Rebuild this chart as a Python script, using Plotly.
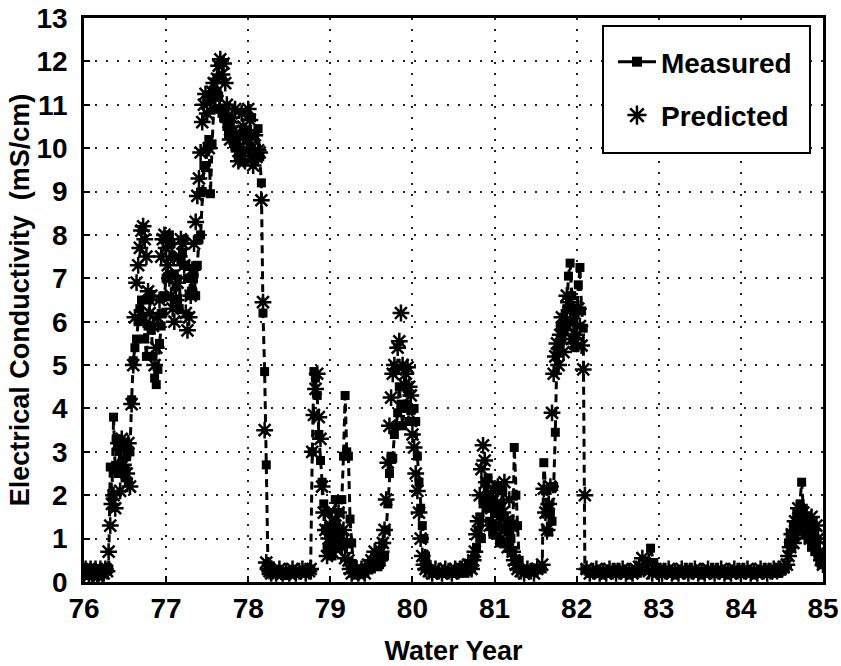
import plotly.graph_objects as go

# ---------------- data ----------------
# Water-year axis
year_ticks = [76, 77, 78, 79, 80, 81, 82, 83, 84, 85]
year_labels = ["76", "77", "78", "79", "80", "81", "82", "83", "84", "85"]
ec_ticks = list(range(0, 14))

# Sampling runs: (start water year, sampling interval in years)
meas_run_start = [76.00, 76.30, 78.32, 78.76, 79.34, 79.58, 80.24, 80.72, 81.36, 81.58, 82.14, 84.58]
meas_run_step = [0.02, 0.02, 0.04, 0.02, 0.04, 0.02, 0.04, 0.02, 0.04, 0.02, 0.04, 0.02]

# Measured EC (mS/cm) per run
meas_1 = [0.30, 0.20, 0.25, 0.30, 0.15, 0.20, 0.30, 0.25, 0.20, 0.15, 0.25, 0.30, 0.20, 0.25, 0.30]
meas_2 = [0.3, 2.65, 2.0, 3.8, 2.6, 3.3, 2.5, 3.2, 2.7, 3.1, 2.4, 2.9, 2.3, 3.0, 4.2, 5.1, 5.4, 5.6, 6.0, 6.3,
          6.5, 6.1, 5.6, 5.2, 5.9, 6.5, 5.8, 5.2, 4.7, 4.55, 4.9, 5.5, 5.9, 6.2, 6.6, 7.0, 7.9, 8.0, 7.8, 7.5,
          7.1, 6.8, 6.5, 6.3, 7.4, 7.6, 7.9, 7.3, 7.0, 6.6, 7.0, 6.7, 7.1, 6.6, 7.3, 7.9, 8.0, 9.0, 9.6, 9.55,
          10.0, 10.2, 8.95, 10.1, 10.9, 11.2, 11.3, 11.2, 10.9, 10.8, 10.7, 10.85, 10.5, 10.3, 10.6, 10.4, 10.2, 10.0, 10.3, 9.8,
          10.0, 9.7, 9.9, 10.4, 10.2, 9.9, 10.3, 10.7, 9.8, 9.7, 9.9, 10.45, 9.8, 9.2, 6.2, 4.85, 2.7, 0.4, 0.3, 0.2]
meas_3 = [0.20, 0.25, 0.20, 0.15, 0.20, 0.25, 0.20, 0.20, 0.25, 0.20, 0.20]
meas_4 = [0.3, 3.0, 4.85, 4.7, 4.3, 3.4, 2.8, 2.3, 1.8, 1.2, 0.8, 1.6, 1.1, 0.6, 1.4, 1.9, 1.2, 0.8, 1.6, 1.9,
          2.9, 4.3, 3.0, 2.9, 1.45, 0.9, 0.4, 0.3]
meas_5 = [0.25, 0.30, 0.20, 0.35, 0.30, 0.40]
meas_6 = [0.35, 0.4, 0.5, 0.9, 0.6, 1.2, 1.8, 2.5, 2.9, 2.85, 3.4, 3.6, 3.9, 4.5, 4.1, 3.6, 4.0, 4.5, 4.1, 3.7,
          3.95, 3.7, 4.0, 3.7, 2.9, 2.3, 1.7, 1.3, 1.0, 0.6, 0.4, 0.3]
meas_7 = [0.20, 0.25, 0.20, 0.20, 0.25, 0.20, 0.25, 0.20, 0.20, 0.25, 0.20, 0.25]
meas_8 = [0.3, 0.4, 0.6, 0.8, 1.2, 1.5, 1.0, 1.8, 2.3, 1.7, 2.4, 1.4, 1.9, 1.1, 1.6, 2.2, 1.3, 0.9, 1.8, 2.1,
          1.5, 1.2, 0.9, 1.4, 1.0, 0.7, 3.1, 2.0, 1.3, 0.5, 0.3]
meas_9 = [0.25, 0.20, 0.30, 0.25, 0.30]
meas_10 = [0.3, 2.75, 2.1, 1.7, 1.15, 1.6, 1.4, 2.2, 3.45, 5.3, 5.45, 5.9, 5.6, 6.1, 5.9, 6.3, 7.05, 7.35, 6.6, 6.0,
           5.4, 6.3, 6.85, 7.25, 6.25, 5.85, 0.3]
meas_11 = [0.25, 0.20, 0.25, 0.20, 0.20, 0.25, 0.20, 0.20, 0.25, 0.20, 0.20, 0.25, 0.20, 0.20, 0.25, 0.20, 0.25, 0.30,
           0.45, 0.78, 0.45,
           0.25, 0.20, 0.20, 0.25, 0.20, 0.20, 0.25, 0.20, 0.20, 0.25, 0.20, 0.20, 0.25, 0.20, 0.20, 0.25, 0.20, 0.20, 0.25, 0.20,
           0.20, 0.25, 0.20, 0.20, 0.25, 0.20, 0.20, 0.25, 0.20, 0.20, 0.25, 0.20, 0.20, 0.25, 0.20, 0.20, 0.25, 0.20, 0.25, 0.30]
meas_12 = [0.9, 1.1, 0.8, 1.3, 1.0, 1.6, 1.4, 1.8, 2.3, 1.7, 1.3, 1.5, 1.0, 1.2, 0.8, 1.0, 0.7, 0.9, 0.6, 0.5, 0.4]

pred_run_start = [76.00, 76.30, 78.30, 78.76, 79.30, 79.58, 80.20, 80.72, 81.32, 81.58, 82.16, 84.56]
pred_run_step = [0.02, 0.02, 0.04, 0.02, 0.04, 0.02, 0.04, 0.02, 0.04, 0.02, 0.04, 0.02]

# Predicted EC (mS/cm) per run
pred_1 = [0.20, 0.30, 0.25, 0.15, 0.30, 0.20, 0.25, 0.30, 0.15, 0.20, 0.30, 0.25, 0.20, 0.30, 0.25]
pred_2 = [0.7, 1.3, 1.8, 2.0, 1.7, 2.6, 3.2, 2.1, 3.3, 2.7, 3.1, 2.5, 3.2, 2.2, 4.1, 5.0, 6.1, 6.9, 7.3, 7.7,
          8.1, 8.2, 7.9, 7.5, 6.7, 6.2, 6.6, 5.9, 5.0, 5.4, 6.1, 6.5, 7.5, 7.9, 8.0, 7.7, 7.3, 7.0, 6.6, 6.3,
          6.0, 6.5, 6.9, 7.5, 7.9, 7.8, 7.3, 6.2, 5.8, 6.1, 6.6, 7.2, 7.8, 8.3, 8.9, 9.3, 9.9, 10.6, 11.0, 11.25,
          10.8, 10.0, 11.1, 11.3, 11.5, 11.2, 11.6, 11.9, 12.05, 11.7, 11.95, 11.5, 11.0, 10.6, 10.2, 10.7, 10.4, 10.9, 10.1, 9.7,
          10.3, 10.8, 10.5, 9.7, 10.2, 10.9, 10.65, 10.0, 9.6, 10.3, 9.8, 9.95, 9.9, 8.8, 6.45, 3.5, 0.45, 0.3, 0.25, 0.2]
pred_3 = [0.25, 0.20, 0.30, 0.20, 0.25, 0.20, 0.30, 0.20, 0.25, 0.30, 0.20, 0.25]
pred_4 = [0.3, 3.0, 3.85, 4.45, 4.8, 3.8, 3.3, 2.2, 1.6, 1.2, 0.6, 1.0, 1.3, 0.7, 1.0, 1.3, 0.9, 1.6, 1.1, 0.8,
          1.2, 0.55, 0.9, 0.5, 0.3, 0.2]
pred_5 = [0.25, 0.20, 0.30, 0.20, 0.40, 0.50, 0.70]
pred_6 = [0.5, 0.5, 0.7, 0.9, 1.2, 1.9, 2.75, 3.6, 4.25, 4.8, 5.0, 4.9, 5.4, 5.55, 6.2, 5.0, 4.55, 4.8, 4.95, 4.5,
          4.3, 3.4, 3.1, 2.5, 2.1, 1.6, 1.0, 0.6, 0.4, 0.3]
pred_7 = [0.25, 0.20, 0.30, 0.25, 0.20, 0.30, 0.25, 0.20, 0.30, 0.25, 0.30, 0.35, 0.40]
pred_8 = [0.3, 0.5, 0.7, 1.1, 1.4, 2.0, 2.6, 3.15, 2.8, 2.3, 1.9, 1.3, 1.7, 2.1, 1.2, 1.8, 2.2, 1.5, 1.0, 1.6,
          2.3, 1.4, 0.8, 1.9, 1.3, 0.7, 0.5, 0.4, 0.3]
pred_9 = [0.25, 0.20, 0.30, 0.25, 0.20, 0.30]
pred_10 = [0.4, 2.15, 1.6, 1.2, 1.8, 2.2, 3.9, 4.8, 5.2, 5.5, 5.0, 5.7, 6.1, 5.3, 5.8, 6.6, 6.45, 6.0, 5.6, 6.2,
           5.5, 5.7, 6.3, 5.9, 5.45, 4.9, 2.0, 0.3]
pred_11 = [0.20, 0.25, 0.30, 0.20, 0.25, 0.20, 0.30, 0.25, 0.20, 0.25, 0.30, 0.20, 0.25, 0.20, 0.30,
           0.35, 0.55, 0.40,
           0.25, 0.20, 0.30, 0.25, 0.20, 0.25, 0.30, 0.20, 0.25, 0.20, 0.30, 0.25, 0.20, 0.25, 0.30, 0.20, 0.25, 0.20,
           0.30, 0.25, 0.20, 0.25, 0.30, 0.20, 0.25, 0.20, 0.30, 0.25, 0.20, 0.25, 0.30, 0.20, 0.25, 0.20, 0.30, 0.25,
           0.20, 0.25, 0.30, 0.25, 0.30, 0.35]
pred_12 = [0.4, 0.6, 0.8, 1.1, 0.9, 1.4, 1.2, 1.7, 1.5, 1.2, 1.6, 1.1, 1.4, 1.3, 1.0, 1.5, 1.2, 0.9, 1.3, 1.0,
           0.7, 0.5, 0.4]

meas_runs = [meas_1, meas_2, meas_3, meas_4, meas_5, meas_6, meas_7, meas_8, meas_9, meas_10, meas_11, meas_12]
pred_runs = [pred_1, pred_2, pred_3, pred_4, pred_5, pred_6, pred_7, pred_8, pred_9, pred_10, pred_11, pred_12]


def assemble(starts, steps, runs):
    xs, ys = [], []
    for s, d, vals in zip(starts, steps, runs):
        for i, v in enumerate(vals):
            xs.append(round(s + i * d, 4))
            ys.append(v)
    return xs, ys


mx, my = assemble(meas_run_start, meas_run_step, meas_runs)
px_, py_ = assemble(pred_run_start, pred_run_step, pred_runs)

# ---------------- figure ----------------
FONT = "Liberation Sans, Arial, Helvetica, sans-serif"

fig = go.Figure()
fig.add_trace(go.Scatter(
    x=mx, y=my, mode="lines+markers", name="Measured",
    showlegend=False,
    line=dict(color="black", width=3, dash="8px,5px"),
    marker=dict(symbol="square", size=9, color="black"),
))
fig.add_trace(go.Scatter(
    x=px_, y=py_, mode="markers", name="Predicted",
    showlegend=False,
    marker=dict(symbol="asterisk-open", size=14, color="black",
                line=dict(width=2.5, color="black")),
))
# legend entries (solid key line as in the reference)
fig.add_trace(go.Scatter(
    x=[None], y=[None], mode="lines+markers", name="Measured", legendgroup="m",
    line=dict(color="black", width=3),
    marker=dict(symbol="square", size=10, color="black"),
))
fig.add_trace(go.Scatter(
    x=[None], y=[None], mode="markers", name="Predicted", legendgroup="p",
    marker=dict(symbol="asterisk-open", size=16, color="black",
                line=dict(width=2.5, color="black")),
))

axis_common = dict(
    showgrid=True, gridcolor="#222", gridwidth=2, griddash="2px,9px",
    showline=True, linecolor="black", linewidth=2.5, mirror=True,
    ticks="inside", ticklen=6, tickwidth=2, tickcolor="black",
    zeroline=False, automargin=False, ticklabeloverflow="allow",
    tickfont=dict(family=FONT, size=28, color="black", weight="bold"),
)

# legend frame (drawn as a box so its padding matches the reference)
fig.add_shape(type="rect", xref="paper", yref="paper",
              x0=0.7023, x1=0.9824, y0=0.7606, y1=0.9858,
              line=dict(color="black", width=2), fillcolor="white", layer="above")

fig.update_layout(
    width=841, height=666,
    margin=dict(l=84, r=18, t=18, b=84),
    paper_bgcolor="white", plot_bgcolor="white",
    xaxis=dict(range=[76, 85], tickvals=year_ticks, ticktext=year_labels,
               title=dict(text="Water Year", standoff=20,
                          font=dict(family=FONT, size=27, color="black", weight="bold")),
               **axis_common),
    yaxis=dict(range=[0, 13], tickvals=ec_ticks, ticklabelstandoff=8,
               title=dict(text="Electrical Conductivity\u00a0 (mS/cm)", standoff=0,
                          font=dict(family=FONT, size=27, color="black", weight="bold")),
               **axis_common),
    legend=dict(x=0.7158, y=0.9663, xanchor="left", yanchor="top",
                bgcolor="rgba(0,0,0,0)", borderwidth=0,
                font=dict(family=FONT, size=28, color="black", weight="bold"),
                traceorder="grouped", tracegroupgap=14, itemwidth=38),
    showlegend=True,
)

fig.write_html("out.html",
               config={"displayModeBar": False},
               post_script="document.body.style.margin='0';document.body.style.overflow='hidden';")
